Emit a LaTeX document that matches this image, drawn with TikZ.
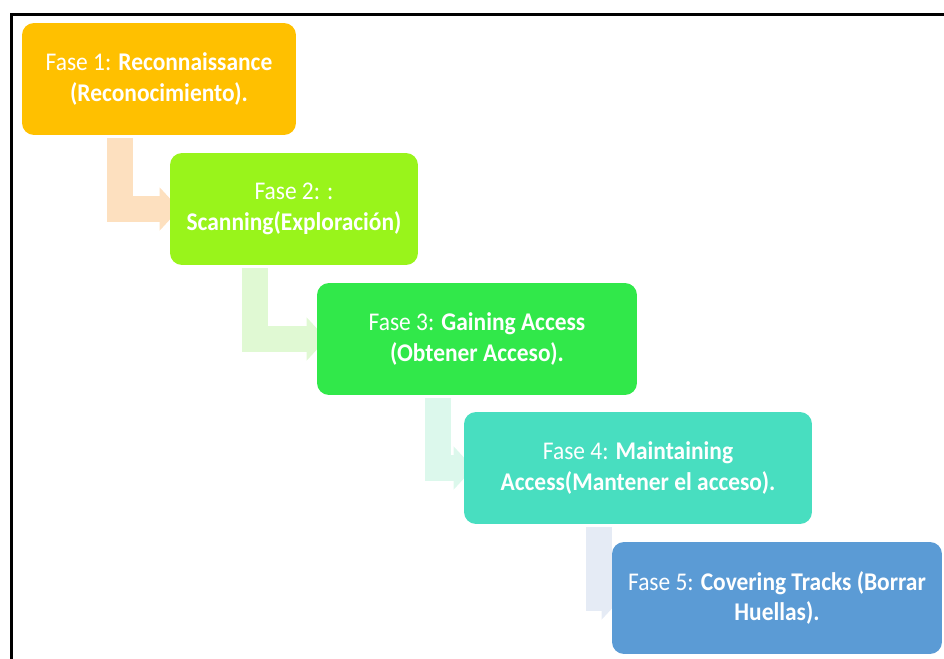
\documentclass[tikz,border=0pt]{standalone}
\usepackage{fontspec}
\setmainfont{Carlito}[FakeStretch=0.92]
\usetikzlibrary{arrows.meta, backgrounds}

\definecolor{faseA}{HTML}{FFC000}
\definecolor{faseB}{HTML}{99F41B}
\definecolor{faseC}{HTML}{31E84A}
\definecolor{faseD}{HTML}{48DEC0}
\definecolor{faseE}{HTML}{5B9BD5}
\definecolor{linkA}{HTML}{FDE0BF}
\definecolor{linkB}{HTML}{E0F9D3}
\definecolor{linkC}{HTML}{DCF8EC}
\definecolor{linkD}{HTML}{E5EBF5}

\begin{document}
\begin{tikzpicture}[
        x=0.02cm, y=-0.02cm,
        fase/.style={rounded corners=0.24cm, minimum height=2.24cm, align=center,
            text=white, font=\fontsize{14.5}{17.6}\selectfont, inner sep=2pt},
        link/.style={line width=0.52cm, line join=miter,
            -{Triangle[width=0.84cm, length=0.4cm]}},
    ]
        \useasboundingbox (0,0) rectangle (944,659);

        % Frame
        \draw[line width=0.06cm] (11.5,659) -- (11.5,14.5) -- (944,14.5);

        % Phases
        \node[fase, fill=faseA, minimum width=5.48cm] (f1) at (159,79)
            {Fase 1: \textbf{Reconnaissance}\\\textbf{(Reconocimiento).}};
        \node[fase, fill=faseB, minimum width=4.96cm] (f2) at (294,209)
            {Fase 2: :\\\textbf{Scanning(Exploración)}};
        \node[fase, fill=faseC, minimum width=6.40cm] (f3) at (477,339)
            {Fase 3: \textbf{Gaining Access}\\\textbf{(Obtener Acceso).}};
        \node[fase, fill=faseD, minimum width=6.96cm] (f4) at (638,468)
            {Fase 4: \textbf{Maintaining}\\\textbf{Access(Mantener el acceso).}};
        \node[fase, fill=faseE, minimum width=6.60cm] (f5) at (777,598)
            {Fase 5: \textbf{Covering Tracks (Borrar}\\\textbf{Huellas).}};

        % Step-down arrows, behind the boxes
        \begin{scope}[on background layer]
            \draw[link, linkA] ([xshift=-0.79cm, yshift=-0.06cm]f1.south) |- ([xshift=0.2cm]f2.west);
            \draw[link, linkB] ([xshift=-0.79cm, yshift=-0.06cm]f2.south) |- ([xshift=0.2cm]f3.west);
            \draw[link, linkC] ([xshift=-0.79cm, yshift=-0.06cm]f3.south) |- ([xshift=0.2cm]f4.west);
            \draw[link, linkD] ([xshift=-0.79cm, yshift=-0.06cm]f4.south) |- ([xshift=0.2cm]f5.west);
        \end{scope}
    \end{tikzpicture}
\end{document}
